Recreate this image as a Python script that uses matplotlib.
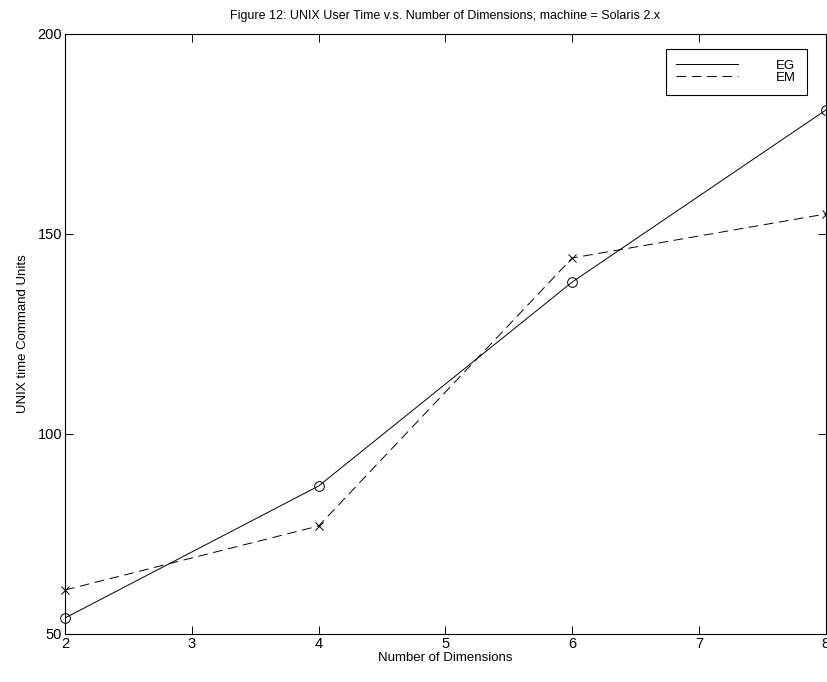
import matplotlib
matplotlib.use("Agg")
import matplotlib.pyplot as plt

plt.rcParams["font.family"] = ["Liberation Sans", "DejaVu Sans"]
plt.rcParams["lines.scale_dashes"] = False

dims = [2, 4, 6, 8]
eg = [54, 87, 138, 181]
em = [61, 77, 144, 155]

fig = plt.figure(figsize=(8.28, 6.82), dpi=100)
ax = fig.add_axes([0.0785, 0.0704, 0.919, 0.8798])

ax.plot(dims, eg, "k-", lw=0.7, label="EG")
ax.plot(dims, em, "k--", lw=0.7, dashes=(7, 4), label="EM")
ax.plot(dims, eg, "ko", mfc="none", ms=7, mew=0.7, clip_on=False)
ax.plot(dims, em, "kx", ms=6, mew=0.7, clip_on=False)

ax.set_xlim(2, 8)
ax.set_ylim(50, 200)
ax.set_xticks([2, 3, 4, 5, 6, 7, 8])
ax.set_yticks([50, 100, 150, 200])
ax.tick_params(direction="in", length=6, width=0.7, labelsize=10.5,
               top=True, right=True, pad=2)
for s in ax.spines.values():
    s.set_linewidth(0.8)

ax.set_title("Figure 12: UNIX User Time v.s. Number of Dimensions; machine = Solaris 2.x",
             fontsize=9, pad=11)
ax.set_xlabel("Number of Dimensions", fontsize=9.5, labelpad=1)
ax.set_ylabel("UNIX time Command Units", fontsize=9.5, labelpad=6)

leg = ax.legend(loc="upper right", bbox_to_anchor=(0.975, 0.975),
                fontsize=9.5, frameon=True, fancybox=False,
                edgecolor="black", framealpha=1, handlelength=4.7,
                handletextpad=2.9, labelspacing=0.0, borderpad=0.8,
                borderaxespad=0)
leg.get_frame().set_linewidth(0.8)

fig.savefig("out.png", dpi=100)
